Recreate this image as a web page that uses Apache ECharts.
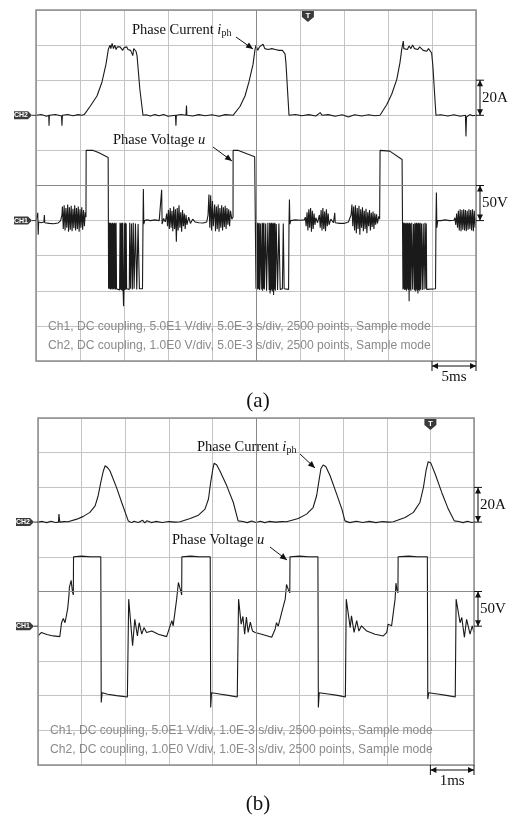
<!DOCTYPE html>
<html><head><meta charset="utf-8">
<script src="https://cdn.jsdelivr.net/npm/echarts/dist/echarts.min.js"></script>
<style>html,body{margin:0;padding:0;background:#fff}#c{width:515px;height:817px}</style>
</head><body><div id="c"></div>
<script>
// ---------- DATA (time in ms, current in A, voltage in V) ----------
const aCurrent = [[0,0],[0.6,0.5],[1.2,-0.5],[1.45,0],[1.48,-6],[1.52,0],[2.2,0.5],[2.9,-0.4],[2.95,-6],[3.0,0],[3.6,0.5],[4.2,-0.3],[4.8,0.4],[5.2,0],[5.5,0.5],[5.68,0],[6.14,5],[6.93,11],[7.5,19],[7.95,29],[8.22,37.6],[8.41,40],[8.5,38],[8.65,41],[8.8,38],[8.95,40],[9.1,37.5],[9.25,39],[9.4,38],[9.55,39],[9.7,38.5],[9.85,37],[10.0,38.5],[10.15,38],[10.3,39],[10.45,37.5],[10.6,38.5],[10.75,37],[10.9,38],[11.0,34],[11.1,38],[11.25,37],[11.36,36.5],[11.48,34],[11.8,15],[12.16,0],[12.5,0.3],[13,-0.4],[13.5,0.4],[14,-0.3],[14.5,0.5],[15,-0.5],[15.85,0],[15.9,-6],[15.95,0],[16.5,0.5],[17.05,0],[17.1,5.5],[17.15,0],[17.8,-0.4],[18.5,0.4],[19.2,-0.3],[20,0.3],[20.8,-0.5],[21.5,0.4],[22.39,0],[23.18,5],[23.75,11],[24.2,19],[24.66,29],[24.89,37.6],[25.0,40],[25.2,37],[25.4,39],[25.6,38],[25.8,40.5],[26.0,38],[26.2,39],[26.4,37.5],[26.6,38.5],[26.8,38],[27.0,39],[27.2,37.5],[27.4,38],[27.6,37],[27.8,38],[28.0,37],[28.3,35],[28.4,30],[28.75,0],[29.5,0.5],[30.2,-0.3],[31,0.4],[31.8,-0.4],[32.3,1.5],[32.5,0],[33.2,0.4],[34,-0.5],[34.8,0.3],[35.5,-1],[36.2,0.3],[37,-0.4],[37.8,0.3],[38.5,-0.3],[39.09,0],[39.85,6],[40.42,12],[41.0,20.5],[41.36,30],[41.56,37.6],[41.74,42.3],[41.8,38],[42.0,39],[42.2,37.5],[42.4,39.5],[42.6,38],[42.8,40],[43.0,38],[43.2,39],[43.4,37.5],[43.6,39],[43.8,38.5],[44.0,37],[44.2,38],[44.4,36.5],[44.6,38],[44.8,37],[44.96,35.5],[45.1,28],[45.45,0],[46,0.3],[46.8,-0.4],[47.5,0.3],[48.2,-0.5],[48.8,0],[48.86,-12],[48.92,-1],[49.3,0.4],[49.6,-0.3],[50,0]];

const aVoltage = [[0,0],[0.15,0],[0.2,11],[0.25,-20],[0.3,-2],[0.6,-3],[0.9,-2],[0.95,8],[1.0,-3],[1.5,-4],[2.0,-4.5],[2.5,-3.5],[2.8,0],[2.95,8],
[3.0,20],[3.1,-12],[3.2,22],[3.3,-14],[3.4,18],[3.5,-10],[3.6,23],[3.7,-16],[3.8,19],[3.9,-13],[4.0,21],[4.1,-15],[4.2,17],[4.3,-11],[4.4,22],[4.5,-14],[4.6,18],[4.7,-12],[4.8,20],[4.9,-16],[5.0,16],[5.1,-10],[5.2,19],[5.3,-13],[5.4,15],[5.5,-8],[5.6,12],[5.68,5],
[5.7,100],[6.5,100],[7.1,97],[8.2,90],[8.25,-97],
[8.3,-3],[8.35,-97],[8.4,-3],[8.45,-98],[8.5,-3],[8.55,-97],[8.6,-4],[8.65,-98],[8.7,-3],[8.75,-97],[8.8,-4],[8.85,-98],[8.9,-3],[8.95,-97],[9.0,-4],[9.05,-98],[9.1,-3],[9.15,-97],[9.5,-99],[9.55,-3],[9.6,-98],[9.65,-4],[9.7,-99],[9.75,-3],[9.8,-100],[9.85,-3],[9.9,-98],[9.95,-122],[10.0,-97],[10.05,-4],[10.1,-99],[10.15,-3],[10.2,-98],[10.25,-4],[10.3,-97],[10.6,-98],[10.65,-3],[10.75,-97],[10.85,-4],[10.95,-98],[11.05,-3],[11.15,-97],[11.3,-4],[11.45,-98],[11.6,-5],[11.75,-97],[12.1,-97],[12.16,-3],[12.2,45],[12.25,-5],[12.35,0],
[12.6,1],[13,0],[13.5,1],[14.0,0],[14.2,0],[14.28,44],[14.33,-5],[14.5,3],[14.7,-2],[14.85,10],[14.95,-8],[15.05,15],[15.15,-12],[15.25,18],[15.35,-10],[15.45,14],[15.55,-15],[15.65,20],[15.75,-12],[15.85,16],[15.95,-30],[16.05,18],[16.15,-14],[16.25,22],[16.35,-10],[16.45,12],[16.55,-16],[16.65,15],[16.75,-8],[16.85,10],[16.95,-12],[17.05,8],[17.15,-6],[17.35,5],[17.55,-4],[17.8,2],[18.1,-2],
[18.5,-3],[19.0,-3.5],[19.4,-2],[19.55,8],[19.65,37],[19.75,-10],[19.85,36],[19.95,-14],[20.05,28],[20.15,-8],[20.3,23],[20.4,-15],[20.5,20],[20.6,-12],[20.7,23],[20.8,-16],[20.9,18],[21.0,-10],[21.1,22],[21.2,-14],[21.3,19],[21.4,-9],[21.5,21],[21.6,-12],[21.7,18],[21.8,-6],[21.9,16],[22.0,-8],[22.1,14],[22.25,2],[22.39,5],
[22.4,100],[23.0,100],[24.85,91],[25.0,90],[25.0,-97],
[25.05,-3],[25.1,-97],[25.15,-3],[25.2,-98],[25.25,-4],[25.3,-97],[25.35,-3],[25.4,-99],[25.5,-4],[25.6,-98],[25.7,-3],[25.75,-100],[25.8,-4],[25.85,-97],[25.9,-3],[25.95,-98],[26.1,-4],[26.2,-100],[26.35,-3],[26.5,-99],[26.55,-3],[26.6,-104],[26.65,-4],[26.7,-100],[26.75,-3],[26.8,-98],[26.85,-4],[26.9,-101],[26.95,-3],[27.0,-106],[27.05,-4],[27.1,-98],[27.15,-3],[27.2,-100],[27.3,-5],[27.45,-99],[27.6,-4],[27.75,-98],[28.0,-97],[28.1,-4],[28.2,-97],[28.7,-98],[28.75,-3],[28.8,30],[28.85,-5],[28.95,0],
[29.5,1],[30,0.5],[30.5,1],[30.6,5],[30.7,-8],[30.8,12],[30.9,-14],[31.0,16],[31.1,-10],[31.2,18],[31.3,-16],[31.4,14],[31.5,-12],[31.6,10],[31.7,-6],[31.8,4],[32.0,-3],[32.2,8],[32.3,-10],[32.4,15],[32.5,-14],[32.6,18],[32.7,-12],[32.8,13],[32.9,-15],[33.0,16],[33.1,-8],[33.2,10],[33.3,-6],[33.5,2],[33.8,-3],[33.95,11],[34.0,-3],
[34.5,-4],[35.0,-4],[35.5,-2],[35.8,8],[35.9,23],[36.0,-8],[36.1,20],[36.2,-14],[36.3,22],[36.4,-18],[36.5,18],[36.6,-12],[36.7,21],[36.8,-20],[36.9,16],[37.0,-10],[37.1,19],[37.2,-15],[37.3,14],[37.4,-12],[37.5,17],[37.6,-18],[37.7,12],[37.8,-8],[37.9,15],[38.0,-14],[38.1,11],[38.2,-9],[38.3,13],[38.4,-12],[38.5,10],[38.6,-6],[38.7,9],[38.8,-4],[38.95,6],[39.05,2],
[39.1,100],[40.2,99],[41.6,87],[41.7,87],[41.7,-98],
[41.75,-3],[41.8,-97],[41.85,-3],[41.9,-99],[41.95,-4],[42.0,-98],[42.05,-3],[42.1,-100],[42.15,-4],[42.2,-97],[42.25,-3],[42.3,-99],[42.35,-4],[42.4,-115],[42.45,-3],[42.5,-98],[42.55,-4],[42.6,-100],[42.7,-3],[42.8,-98],[42.9,-5],[43.0,-99],[43.05,-3],[43.1,-101],[43.15,-4],[43.2,-98],[43.25,-3],[43.3,-100],[43.35,-4],[43.4,-104],[43.45,-3],[43.5,-99],[43.55,-4],[43.6,-100],[43.65,-3],[43.7,-98],[43.8,-4],[43.9,-99],[44.0,-4],[44.1,-98],[44.2,-3],[44.3,-97],[44.35,-4],[44.4,-98],[45.4,-97],[45.45,-3],[45.5,40],[45.55,-10],[45.65,0],
[46,0],[46.5,1],[47,0],[47.5,0.5],[47.6,4],[47.7,-6],[47.8,10],[47.9,-10],[48.0,14],[48.1,-14],[48.2,16],[48.3,-15],[48.4,15],[48.5,-13],[48.6,16],[48.7,-14],[48.8,15],[48.9,-15],[49.0,14],[49.1,-13],[49.2,16],[49.3,-12],[49.4,15],[49.5,-14],[49.6,16],[49.7,-15],[49.8,14],[49.9,-10],[50,4]];

const bCurrent = [[0,0],[0.1,0.4],[0.2,-0.3],[0.3,0.5],[0.4,-0.2],[0.47,0],[0.48,4.6],[0.5,0],[0.6,0.3],[0.69,0.2],[0.89,1.7],[1.04,3.3],[1.19,5.6],[1.31,9.4],[1.38,15.2],[1.44,22.9],[1.50,29.6],[1.54,32.5],[1.59,31.5],[1.65,29.6],[1.80,20],[1.92,11.3],[2.07,0.7],[2.15,-0.3],[2.2,0.5],[2.3,-0.2],[2.4,1],[2.45,-0.5],[2.5,0.8],[2.6,-0.3],[2.7,0.4],[2.85,-0.2],[3.0,0.3],[3.15,0],[3.26,0.2],[3.49,2.1],[3.68,4],[3.83,7.5],[3.91,13.3],[3.96,22.9],[4.01,30.5],[4.04,34],[4.10,32.9],[4.17,29.6],[4.33,20.9],[4.48,11.3],[4.59,0.7],[4.7,0.3],[4.8,-0.3],[4.9,0.6],[5.0,-0.2],[5.1,0.5],[5.2,-0.3],[5.3,0.4],[5.45,0],[5.6,0.3],[5.70,0.2],[5.97,2.1],[6.16,4.6],[6.31,8.4],[6.39,15.2],[6.45,24.8],[6.49,30.9],[6.54,32.9],[6.60,32.1],[6.70,26.7],[6.85,16.1],[6.97,7.5],[7.04,0.7],[7.15,-0.3],[7.3,0.5],[7.45,-0.2],[7.6,0.4],[7.75,-0.3],[7.9,0.3],[8.05,0],[8.15,0.2],[8.42,2.7],[8.61,5.6],[8.76,11.3],[8.84,20],[8.90,29.6],[8.95,34.8],[9.01,34],[9.11,27.7],[9.26,17.1],[9.41,7.5],[9.55,0.7],[9.65,0.3],[9.75,-0.3],[9.85,0.5],[9.95,-0.2],[10,0]];

const bVoltage = [[0,-14],[0.08,-9],[0.2,-12],[0.35,-14],[0.5,-15],[0.54,5],[0.58,11],[0.62,5],[0.68,25],[0.71,44],[0.72,56],[0.76,66],[0.79,50],[0.81,45],[0.815,100],[1.0,101],[1.2,100],[1.44,100],[1.45,-110],[1.47,-96],[1.6,-98],[1.8,-100],[2.05,-102],[2.08,39],[2.17,-28],[2.22,10],[2.28,-14],[2.32,5],[2.38,-11.5],[2.43,-2],[2.49,-9],[2.61,-7],[2.76,-11.5],[2.95,-15],[3.03,0.5],[3.07,8],[3.10,0.5],[3.18,39],[3.22,63],[3.25,65],[3.28,49],[3.295,45],[3.30,100],[3.5,101],[3.7,100],[3.95,100],[3.96,-117],[3.98,-96],[4.2,-98],[4.4,-100],[4.57,-102],[4.60,39],[4.66,3],[4.70,14],[4.74,-11.5],[4.78,13],[4.82,-9],[4.87,6],[4.92,-7],[4.98,-9],[5.13,-11.5],[5.36,-16],[5.44,-4],[5.47,5],[5.51,0],[5.59,20],[5.67,39],[5.70,60],[5.74,53],[5.775,48],[5.78,100],[6.0,101],[6.2,100],[6.42,100],[6.43,-117],[6.45,-96],[6.7,-98],[6.9,-100],[7.05,-102],[7.07,39],[7.16,-2],[7.19,15],[7.25,-9],[7.31,8],[7.36,-7],[7.42,0.5],[7.54,-7],[7.73,-11.5],[7.92,-14],[8.0,-9],[8.03,3],[8.07,5],[8.11,0.5],[8.19,39],[8.21,62],[8.23,53],[8.255,48],[8.26,100],[8.5,101],[8.7,100],[8.93,100],[8.94,-105],[8.96,-96],[9.2,-98],[9.4,-100],[9.57,-102],[9.59,39],[9.68,5],[9.72,12.5],[9.78,-16],[9.83,10],[9.91,-11.5],[9.96,0.5],[10,-9]];

const aInfo = ['Ch1, DC coupling, 5.0E1 V/div, 5.0E-3 s/div, 2500 points, Sample mode',
               'Ch2, DC coupling, 1.0E0 V/div, 5.0E-3 s/div, 2500 points, Sample mode'];
const bInfo = ['Ch1, DC coupling, 5.0E1 V/div, 1.0E-3 s/div, 2500 points, Sample mode',
               'Ch2, DC coupling, 1.0E0 V/div, 1.0E-3 s/div, 2500 points, Sample mode'];
const voltPerDiv = 50, ampPerDiv = 20;
const aTimePerDiv = 5, bTimePerDiv = 1;
const aTrigger = 30.9, bTrigger = 9.0;
const captions = ['(a)', '(b)'];
const scaleLabels = ['20A', '50V'];
const timeLabels = ['5ms', '1ms'];

// ---------- CHART ----------
const chart = echarts.init(document.getElementById('c'), null, {renderer: 'canvas'});
const TRACE = '#1a1a1a', GRIDC = '#c4c4c4', SERIF = '"Liberation Serif","Times New Roman",serif';
function xAx(gi, per){ return {type:'value', gridIndex:gi, min:0, max:per*10, interval:per,
  axisLine:{show:false}, axisTick:{show:false}, axisLabel:{show:false},
  splitLine:{show:true, lineStyle:{color:GRIDC, width:1}}}; }
function yAx(gi, per, divsBelow, grid){ return {type:'value', gridIndex:gi, min:-per*divsBelow, max:per*(10-divsBelow), interval:per,
  axisLine:{show:false}, axisTick:{show:false}, axisLabel:{show:false},
  splitLine:{show:grid, lineStyle:{color:GRIDC, width:1}}}; }
function trace(xi, yi, data){ return {type:'line', xAxisIndex:xi, yAxisIndex:yi, data, showSymbol:false, symbol:'none',
  lineStyle:{color:TRACE, width:1.1}, z:3, silent:true}; }
function centre(xi, yi, tMid, vMid){ return {type:'line', xAxisIndex:xi, yAxisIndex:yi, data:[], z:1, silent:true,
  markLine:{silent:true, symbol:'none', label:{show:false}, animation:false,
    lineStyle:{color:'#8a8a8a', type:'solid', width:1}, data:[{xAxis:tMid},{yAxis:vMid}]}}; }

const option = {
  animation:false,
  grid:[{left:36, top:10, width:440, height:351}, {left:38, top:418, width:436, height:347}],
  xAxis:[xAx(0, aTimePerDiv), xAx(1, bTimePerDiv)],
  yAxis:[yAx(0, voltPerDiv, 4, true), yAx(0, ampPerDiv, 7, false), yAx(1, voltPerDiv, 4, true), yAx(1, ampPerDiv, 7, false)],
  series:[
    centre(0, 0, aTimePerDiv*5, voltPerDiv), centre(1, 2, bTimePerDiv*5, voltPerDiv),
    trace(0, 1, aCurrent), trace(0, 0, aVoltage), trace(1, 3, bCurrent), trace(1, 2, bVoltage)
  ]
};
chart.setOption(option);

// ---------- ANNOTATIONS ----------
const px = (xi, yi, t, v) => chart.convertToPixel({xAxisIndex:xi, yAxisIndex:yi}, [t, v]);
const G = [];
function ln(x1,y1,x2,y2,c,w){ G.push({type:'line', silent:true, z:20, shape:{x1,y1,x2,y2}, style:{stroke:c||'#111', lineWidth:w||1}}); }
function head(x1,y1,x2,y2,len,hw){ const dx=x2-x1, dy=y2-y1, L=Math.hypot(dx,dy), ux=dx/L, uy=dy/L;
  const bx=x2-ux*len, by=y2-uy*len;
  G.push({type:'polygon', silent:true, z:20, shape:{points:[[x2,y2],[bx-uy*hw,by+ux*hw],[bx+uy*hw,by-ux*hw]]}, style:{fill:'#111'}}); }
function txt(x,y,s,font,fill,align){ G.push({type:'text', silent:true, z:20, x, y, style:{text:s, font, fill:fill||'#111', textAlign:align||'left', textVerticalAlign:'middle'}}); }
function rich(x,y,s,r){ G.push({type:'text', silent:true, z:20, x, y, style:{text:s, rich:r, textVerticalAlign:'middle', fill:'#111'}}); }
const richStyle = {
  n:{fontFamily:SERIF, fontSize:14.5, fill:'#111', lineHeight:17},
  i:{fontFamily:SERIF, fontSize:14.5, fontStyle:'italic', fill:'#111', lineHeight:17},
  s:{fontFamily:SERIF, fontSize:10, fill:'#111', lineHeight:9, verticalAlign:'bottom'}
};

const panels = [
  {xi:0, v:0, a:1, per:aTimePerDiv, info:aInfo, trig:aTrigger, cap:captions[0], tl:timeLabels[0],
   cur:[132,30,236,37,253,49], vol:[113,140,213,147,232,161]},
  {xi:1, v:2, a:3, per:bTimePerDiv, info:bInfo, trig:bTrigger, cap:captions[1], tl:timeLabels[1],
   cur:[197,447,300,454,315,468], vol:[172,540,270,547,287,560]}
];
panels.forEach(p => {
  const tMax = p.per*10;
  const tl = px(p.xi, p.v, 0, voltPerDiv*6), br = px(p.xi, p.v, tMax, -voltPerDiv*4);
  const L = tl[0], T = tl[1], R = br[0], B = br[1];
  G.push({type:'rect', silent:true, z:15, shape:{x:L, y:T, width:R-L, height:B-T}, style:{fill:'none', stroke:'#8c8c8c', lineWidth:1.5}});
  txt(L+12, B-34, p.info[0], '12.1px "Liberation Sans",Arial,sans-serif', '#8a8a8a');
  txt(L+12, B-15.5, p.info[1], '12.1px "Liberation Sans",Arial,sans-serif', '#8a8a8a');
  [[p.a,'CH2'],[p.v,'CH1']].forEach(([yi,lab]) => {
    const y = px(p.xi, yi, 0, 0)[1], tip = L-4, l0 = tip-18;
    G.push({type:'polygon', silent:true, z:20, shape:{points:[[l0,y-4],[tip-4,y-4],[tip,y],[tip-4,y+4],[l0,y+4]]}, style:{fill:'#3c3c3c'}});
    txt((l0+tip-4)/2, y, lab, 'bold 7px "Liberation Sans",Arial,sans-serif', '#ffffff', 'center');
    ln(tip, y, L, y, '#333', 1);
  });
  const cx = px(p.xi, p.v, p.trig, 0)[0], ty = T+1;
  G.push({type:'polygon', silent:true, z:20, shape:{points:[[cx-6,ty],[cx+6,ty],[cx+6,ty+6],[cx,ty+11],[cx-6,ty+6]]}, style:{fill:'#3a3a3a'}});
  txt(cx, ty+5, 'T', 'bold 8px "Liberation Sans",Arial,sans-serif', '#ffffff', 'center');
  const bx = R+4;
  [[p.a, ampPerDiv, scaleLabels[0]], [p.v, voltPerDiv, scaleLabels[1]]].forEach(([yi, d, lab]) => {
    const y0 = px(p.xi, yi, tMax, 0)[1], y1 = px(p.xi, yi, tMax, d)[1];
    ln(R, y0, bx+4, y0); ln(R, y1, bx+4, y1); ln(bx, y0, bx, y1);
    head(bx, (y0+y1)/2, bx, y0, 6, 3); head(bx, (y0+y1)/2, bx, y1, 6, 3);
    txt(bx+2, (y0+y1)/2, lab, '15px '+SERIF);
  });
  const x0 = px(p.xi, p.v, tMax-p.per, 0)[0], by = B+5;
  ln(x0, B, x0, by+5); ln(R, B, R, by+5); ln(x0, by, R, by);
  head((x0+R)/2, by, x0, by, 6, 3); head((x0+R)/2, by, R, by, 6, 3);
  txt((x0+R)/2, by+11, p.tl, '15px '+SERIF, '#111', 'center');
  rich(p.cur[0], p.cur[1], '{n|Phase Current }{i|i}{s|ph}', richStyle);
  ln(p.cur[2], p.cur[3], p.cur[4], p.cur[5]); head(p.cur[2], p.cur[3], p.cur[4], p.cur[5], 7, 3);
  rich(p.vol[0], p.vol[1], '{n|Phase Voltage }{i|u}', richStyle);
  ln(p.vol[2], p.vol[3], p.vol[4], p.vol[5]); head(p.vol[2], p.vol[3], p.vol[4], p.vol[5], 7, 3);
  txt((L+R)/2+2, p.xi===0 ? 401 : 804, p.cap, '21px '+SERIF, '#111', 'center');
});
chart.setOption({graphic: G});
</script></body></html>
